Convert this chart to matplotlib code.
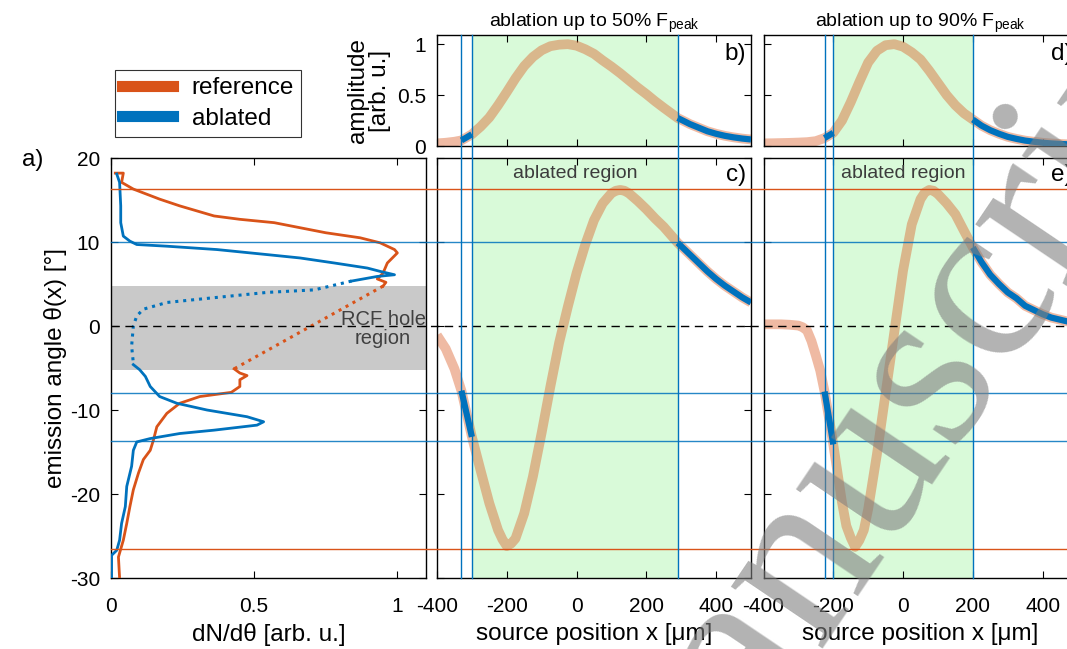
import numpy as np
import matplotlib
matplotlib.use("Agg")
import matplotlib.pyplot as plt
from matplotlib.lines import Line2D
import matplotlib.transforms as mtransforms

plt.rcParams['font.family'] = ['Liberation Sans', 'DejaVu Sans']
plt.rcParams['mathtext.fontset'] = 'custom'
plt.rcParams['mathtext.rm'] = 'Liberation Sans'
plt.rcParams['mathtext.it'] = 'Liberation Sans'
plt.rcParams['axes.unicode_minus'] = False

C_REF = '#D95319'
C_ABL = '#0072BD'
C_GREEN = '#d9fad9'

# ---------------- panel a data (dN/dtheta vs theta) ----------------
ref_theta_top = [18.2, 18.2, 17.1, 16.3, 15.1, 14.3, 13.1, 12.7, 12.3, 11.7, 11.1, 10.5, 9.9, 9.1, 8.7, 7.5, 6.3, 5.6, 5.2, 4.75]
ref_val_top   = [0.015, 0.043, 0.037, 0.078, 0.17, 0.24, 0.36, 0.45, 0.57, 0.66, 0.75, 0.87, 0.94, 0.99, 1.0, 0.965, 0.95, 0.93, 0.96, 0.95]
ref_theta_gap = [4.75, -5.1]
ref_val_gap   = [0.95, 0.43]
ref_theta_bot = [-5.1, -5.6, -5.9, -6.4, -7.2, -7.9, -8.4, -9.2, -10.4, -12.0, -13.6, -14.8, -15.9, -17.5, -19.5, -21.5, -23.5, -25.5, -27.5, -30.0]
ref_val_bot   = [0.43, 0.45, 0.475, 0.45, 0.45, 0.42, 0.31, 0.24, 0.195, 0.16, 0.148, 0.137, 0.113, 0.096, 0.078, 0.066, 0.055, 0.043, 0.026, 0.03]

abl_theta_top = [18.1, 17.1, 14.3, 12.3, 10.7, 10.1, 9.7, 9.5, 9.1, 8.5, 8.1, 7.5, 6.9, 6.5, 6.1, 5.9, 5.35]
abl_val_top   = [0.02, 0.03, 0.034, 0.034, 0.043, 0.066, 0.09, 0.195, 0.37, 0.545, 0.66, 0.78, 0.895, 0.94, 0.99, 0.93, 0.84]
abl_theta_gap = [5.35, 4.3, 4.0, 3.2, 2.8, 2.0, 1.2, 0.0, -2.4, -4.4, -4.6]
abl_val_gap   = [0.84, 0.71, 0.545, 0.31, 0.195, 0.113, 0.09, 0.078, 0.072, 0.078, 0.078]
abl_theta_bot = [-4.6, -5.2, -6.0, -7.2, -8.4, -9.2, -10.0, -10.8, -11.4, -11.8, -12.4, -12.8, -13.4, -13.8, -14.8, -16.7, -19.1, -21.5, -23.5, -25.5, -26.7, -27.3, -30.0]
abl_val_bot   = [0.078, 0.10, 0.12, 0.137, 0.17, 0.23, 0.335, 0.475, 0.533, 0.51, 0.36, 0.24, 0.137, 0.09, 0.078, 0.072, 0.055, 0.05, 0.037, 0.03, 0.02, 0.002, 0.002]

# reference lines (theta levels)
ref_levels = [16.3, -26.5]
abl_levels = [10.0, -8.0, -13.7]
rcf_band = [-5.2, 4.8]

# ---------------- panels b/c (50% ablation) ----------------
x_b = [-400, -375, -350, -330, -300, -275, -250, -225, -200, -175, -150, -125, -100, -75, -50, -25,
       0, 25, 50, 75, 100, 125, 150, 175, 200, 225, 250, 290, 325, 350, 375, 400, 425, 450, 475, 500]
amp_b = [0.026, 0.032, 0.042, 0.055, 0.115, 0.19, 0.28, 0.40, 0.53, 0.665, 0.785, 0.875, 0.94, 0.98, 0.995, 1.0,
         0.985, 0.95, 0.905, 0.84, 0.78, 0.715, 0.645, 0.575, 0.51, 0.44, 0.375, 0.275, 0.215, 0.18, 0.145, 0.12, 0.10, 0.085, 0.073, 0.064]
x_c = [-400, -375, -350, -330, -300, -275, -250, -225, -212.5, -200, -187.5, -175, -150, -125, -100, -75, -50, -25,
       0, 25, 50, 75, 100, 112.5, 125, 137.5, 150, 175, 200, 225, 250, 290, 325, 350, 375, 400, 425, 450, 475, 500]
theta_c = [-1.1, -2.7, -5.1, -7.7, -13.2, -17.2, -21.1, -24.3, -25.4, -26.2, -25.9, -25.3, -22.3, -17.9, -12.7, -7.2, -2.0, 2.3,
           6.3, 9.7, 12.6, 14.6, 15.8, 16.1, 16.2, 16.1, 15.8, 14.9, 13.9, 12.8, 11.8, 9.9, 8.5, 7.5, 6.5, 5.6, 4.8, 4.1, 3.4, 2.8]
bounds_bc = [-330, -300, 290]   # vertical blue lines
green_bc = [-300, 290]
blue_bc = [(-330, -300), (290, 500)]

# ---------------- panels d/e (90% ablation) ----------------
x_d = [-400, -375, -350, -325, -300, -275, -250, -225, -200, -175, -150, -125, -100, -75, -50, -25,
       0, 25, 50, 75, 100, 125, 150, 175, 200, 225, 250, 275, 300, 325, 350, 375, 400, 425, 450, 475, 500]
amp_d = [0.026, 0.027, 0.029, 0.031, 0.034, 0.038, 0.048, 0.078, 0.13, 0.25, 0.43, 0.63, 0.82, 0.935, 0.99, 1.0,
         0.975, 0.92, 0.85, 0.74, 0.62, 0.50, 0.40, 0.32, 0.26, 0.20, 0.155, 0.12, 0.09, 0.07, 0.053, 0.042, 0.032, 0.025, 0.02, 0.016, 0.013]
x_e = [-400, -375, -350, -325, -300, -287.5, -275, -262.5, -250, -237.5, -225, -212.5, -200, -175, -162.5, -150, -137.5,
       -125, -112.5, -100, -75, -50, -25, 0, 25, 50, 62.5, 75, 87.5, 100, 125, 150, 175, 200, 225, 250, 275, 300,
       325, 350, 375, 400, 425, 450, 475, 500]
theta_e = [0.2, 0.2, 0.2, 0.15, 0.05, -0.15, -0.55, -1.8, -3.5, -5.3, -7.8, -10.9, -14.1, -21.0, -23.8, -25.2, -26.3,
           -25.5, -24.3, -21.8, -15.3, -8.0, -0.7, 6.6, 12.1, 15.1, 15.9, 16.2, 16.1, 15.7, 14.6, 13.3, 11.3, 9.35, 7.6, 6.1, 5.0, 4.0,
           3.3, 2.4, 1.9, 1.4, 1.0, 0.75, 0.5, 0.35]
bounds_de = [-225, -200, 200]
green_de = [-200, 200]
blue_de = [(-225, -200), (200, 500)]

x_ticks = [-400, -200, 0, 200, 400]

# ---------------- figure ----------------
W, H = 1067, 649
fig = plt.figure(figsize=(W / 100, H / 100), dpi=100)

def fx(px):
    return px / W

def fy(py):
    return 1 - py / H

ax_a = fig.add_axes([fx(111), fy(578), fx(426 - 111), (578 - 158) / H])
ax_c = fig.add_axes([fx(437), fy(578), fx(751 - 437), (578 - 158) / H])
ax_b = fig.add_axes([fx(437), fy(146), fx(751 - 437), (146 - 35) / H])
ax_e = fig.add_axes([fx(763.5), fy(578), fx(751 - 437), (578 - 158) / H])
ax_d = fig.add_axes([fx(763.5), fy(146), fx(751 - 437), (146 - 35) / H])

TICK_FS = 15
LABEL_FS = 17.5

def style(ax):
    ax.tick_params(direction='in', top=True, right=True, length=5, width=0.8,
                   labelsize=TICK_FS)
    ax.tick_params(axis='y', pad=8)
    ax.tick_params(axis='x', pad=14)
    for s in ax.spines.values():
        s.set_linewidth(1.0)

# panel a
ax_a.axhspan(rcf_band[0], rcf_band[1], color='#c9c9c9', lw=0, zorder=0)
kw = dict(lw=2, solid_joinstyle='round')
ax_a.plot(ref_val_top, ref_theta_top, color=C_REF, zorder=3, **kw)
ax_a.plot(ref_val_bot, ref_theta_bot, color=C_REF, zorder=3, **kw)
ax_a.plot(ref_val_gap, ref_theta_gap, color=C_REF, lw=2.2, ls=(0, (1, 1.6)), zorder=3)
ax_a.plot(abl_val_top, abl_theta_top, color=C_ABL, zorder=4, **kw)
ax_a.plot(abl_val_bot, abl_theta_bot, color=C_ABL, zorder=4, **kw)
ax_a.plot(abl_val_gap, abl_theta_gap, color=C_ABL, lw=2.2, ls=(0, (1, 1.6)), zorder=4)
ax_a.set_xlim(0, 1.1)
ax_a.set_ylim(-30, 20)
ax_a.set_xticks([0, 0.5, 1])
ax_a.set_xticklabels(['0', '0.5', '1'])
ax_a.set_yticks([-30, -20, -10, 0, 10, 20])
style(ax_a)
ax_a.set_xlabel('dN/dθ [arb. u.]', fontsize=LABEL_FS, labelpad=5)
ax_a.set_ylabel('emission angle θ(x) [°]', fontsize=LABEL_FS, labelpad=2)
ax_a.text(0.95, -0.3, 'RCF hole\nregion', ha='center', va='center', fontsize=14.5,
          color='#404040', linespacing=1.0, zorder=5)

def model_panels(ax_top, ax_bot, xt, amp, xb, theta, green, blue_ranges, title, lbl_top, lbl_bot, show_ylabels):
    for ax in (ax_top, ax_bot):
        ax.axvspan(green[0], green[1], color=C_GREEN, lw=0, zorder=0)
    ax_top.plot(xt, amp, color=C_REF, alpha=0.4, lw=7, solid_capstyle='butt', solid_joinstyle='round', zorder=2)
    ax_bot.plot(xb, theta, color=C_REF, alpha=0.4, lw=7, solid_capstyle='butt', solid_joinstyle='round', zorder=2)
    for ax, xs, ys in ((ax_top, xt, amp), (ax_bot, xb, theta)):
        xa = np.array(xs, dtype=float)
        ya = np.array(ys, dtype=float)
        for lo, hi in blue_ranges:
            m = (xa >= lo) & (xa <= hi)
            ax.plot(xa[m], ya[m], color=C_ABL, lw=4.5, solid_capstyle='butt', solid_joinstyle='round', zorder=3)
    for ax in (ax_top, ax_bot):
        ax.set_xlim(-400, 500)
        ax.set_xticks(x_ticks)
        style(ax)
    ax_top.set_ylim(0, 1.09)
    ax_top.set_yticks([0, 0.5, 1])
    ax_top.set_yticklabels(['0', '0.5', '1'] if show_ylabels else [])
    ax_top.set_xticklabels([])
    ax_bot.set_ylim(-30, 20)
    ax_bot.set_yticks([-30, -20, -10, 0, 10, 20])
    ax_bot.set_yticklabels([])
    ax_bot.set_xticklabels([str(t) for t in x_ticks])
    ax_bot.set_xlabel('source position x [μm]', fontsize=LABEL_FS, labelpad=5)
    ax_top.set_title(title, fontsize=14, pad=6)
    ax_top.text(0.985, 0.93, lbl_top, transform=ax_top.transAxes, ha='right', va='top', fontsize=17.5)
    ax_bot.text(0.985, 0.985, lbl_bot, transform=ax_bot.transAxes, ha='right', va='top', fontsize=17.5)
    ax_bot.text((green[0] + green[1]) / 2, 18.1, 'ablated region', ha='center', va='center',
                fontsize=14, color='#3c3c3c', zorder=5)

model_panels(ax_b, ax_c, x_b, amp_b, x_c, theta_c, green_bc, blue_bc,
             r'ablation up to 50% F$_{\mathregular{peak}}$', 'b)', 'c)', True)
model_panels(ax_d, ax_e, x_d, amp_d, x_e, theta_e, green_de, blue_de,
             r'ablation up to 90% F$_{\mathregular{peak}}$', 'd)', 'e)', False)
ax_b.set_ylabel('amplitude\n[arb. u.]', fontsize=LABEL_FS, labelpad=4, linespacing=1.0)

# horizontal lines across panels a, c, e
trans_h = mtransforms.blended_transform_factory(fig.transFigure, ax_a.transData)
for lv in ref_levels:
    fig.add_artist(Line2D([fx(111), 1.0], [lv, lv], transform=trans_h, color=C_REF, lw=1.0, zorder=5))
for lv in abl_levels:
    fig.add_artist(Line2D([fx(111), 1.0], [lv, lv], transform=trans_h, color=C_ABL, lw=1.0, alpha=0.85, zorder=5))
fig.add_artist(Line2D([fx(111), 1.0], [0, 0], transform=trans_h, color='black', lw=1.0,
                      ls=(0, (6, 4)), zorder=5))

# vertical lines across panels b/c and d/e
for axv, bounds in ((ax_c, bounds_bc), (ax_e, bounds_de)):
    trans_v = mtransforms.blended_transform_factory(axv.transData, fig.transFigure)
    for b in bounds:
        fig.add_artist(Line2D([b, b], [fy(578), fy(35)], transform=trans_v, color=C_ABL, lw=1.0, zorder=5))

# legend
handles = [Line2D([], [], color=C_REF, lw=8), Line2D([], [], color=C_ABL, lw=8)]
leg = fig.legend(handles, ['reference', 'ablated'], loc='upper left',
                 bbox_to_anchor=(fx(115), fy(70)), bbox_transform=fig.transFigure,
                 fontsize=17.5, frameon=True, fancybox=False, edgecolor='black',
                 handlelength=2.1, handletextpad=0.75, labelspacing=0.35, borderpad=0.3,
                 borderaxespad=0)
leg.get_frame().set_linewidth(0.8)

fig.text(fx(22), fy(160), 'a)', fontsize=17.5, ha='left', va='center')

# journal watermark (partially visible)
fig.text(fx(639), fy(910), 'Accepted Manuscript'[9:], rotation=56, rotation_mode='anchor',
         ha='left', va='baseline', fontsize=172, family='Liberation Serif',
         color='#808080', alpha=0.6, zorder=20)

fig.savefig('out.png', dpi=100)
